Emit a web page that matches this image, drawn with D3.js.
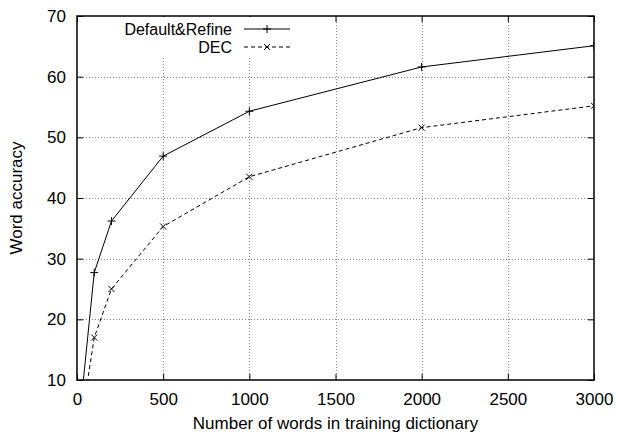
<!DOCTYPE html>
<html>
<head>
<meta charset="utf-8">
<script src="https://cdn.jsdelivr.net/npm/d3@7"></script>
<style>
  body { margin: 0; background: #fff; }
  svg text { font-family: "Liberation Sans", Arial, Helvetica, sans-serif; fill: #000; }
</style>
</head>
<body>
<div id="chart"></div>
<script>
// Data
const dictSizes = [10, 100, 200, 500, 1000, 2000, 3000];
const defaultRefine = [2.4, 27.7, 36.2, 46.9, 54.3, 61.6, 65.1];
const dec = [0.4, 17.0, 25.0, 35.3, 43.5, 51.6, 55.2];
const xTicks = [0, 500, 1000, 1500, 2000, 2500, 3000];
const yTicks = [10, 20, 30, 40, 50, 60, 70];
const seriesNames = ['Default&Refine', 'DEC'];

const width = 617, height = 432;
const margin = { top: 16, right: 23, bottom: 52, left: 77 };
const fontSize = 17;
const legendFontSize = 16;

const svg = d3.select('#chart').append('svg')
  .attr('width', width)
  .attr('height', height);

const x = d3.scaleLinear().domain([0, 3000]).range([margin.left, width - margin.right]);
const y = d3.scaleLinear().domain([10, 70]).range([height - margin.bottom, margin.top]);

// Grid (dotted), skipping the border values
const grid = svg.append('g').attr('class', 'grid')
  .attr('stroke', '#888').attr('stroke-width', 1).attr('stroke-dasharray', '1,2');
grid.selectAll('.gx').data(xTicks.slice(1, -1)).enter().append('line')
  .attr('x1', d => Math.round(x(d)) + 0.5).attr('x2', d => Math.round(x(d)) + 0.5)
  .attr('y1', y(10)).attr('y2', y(70));
grid.selectAll('.gy').data(yTicks.slice(1, -1)).enter().append('line')
  .attr('y1', d => Math.round(y(d)) + 0.5).attr('y2', d => Math.round(y(d)) + 0.5)
  .attr('x1', x(0)).attr('x2', x(3000));

// Axes: ticks inward on all four sides, labels only on left/bottom
const tickLen = 6;
const fmt = d3.format('d');
svg.append('g')
  .attr('transform', `translate(0,${y(10)})`)
  .call(d3.axisBottom(x).tickValues(xTicks).tickFormat(fmt).tickSizeInner(-tickLen).tickSizeOuter(0).tickPadding(tickLen + 7))
  .call(g => g.select('.domain').remove())
  .call(g => g.selectAll('text').attr('font-size', fontSize));
svg.append('g')
  .attr('transform', `translate(0,${y(70)})`)
  .call(d3.axisTop(x).tickValues(xTicks).tickSizeInner(-tickLen).tickSizeOuter(0).tickFormat(''))
  .call(g => g.select('.domain').remove());
svg.append('g')
  .attr('transform', `translate(${x(0)},0)`)
  .call(d3.axisLeft(y).tickValues(yTicks).tickFormat(fmt).tickSizeInner(-tickLen).tickSizeOuter(0).tickPadding(tickLen + 5))
  .call(g => g.select('.domain').remove())
  .call(g => g.selectAll('text').attr('font-size', fontSize));
svg.append('g')
  .attr('transform', `translate(${x(3000)},0)`)
  .call(d3.axisRight(y).tickValues(yTicks).tickSizeInner(-tickLen).tickSizeOuter(0).tickFormat(''))
  .call(g => g.select('.domain').remove());

// Clip lines to the plot area
svg.append('clipPath').attr('id', 'plot-clip')
  .append('rect')
  .attr('x', x(0)).attr('y', y(70))
  .attr('width', x(3000) - x(0)).attr('height', y(10) - y(70));

const line = d3.line().x(d => x(d[0])).y(d => y(d[1]));
const series = [
  { name: seriesNames[0], values: dictSizes.map((d, i) => [d, defaultRefine[i]]), dash: null, marker: 'plus' },
  { name: seriesNames[1], values: dictSizes.map((d, i) => [d, dec[i]]), dash: '4,3', marker: 'cross' }
];

const markerPath = (type, cx, cy, r) => type === 'plus'
  ? `M${cx - r},${cy}H${cx + r}M${cx},${cy - r}V${cy + r}`
  : `M${cx - r},${cy - r}L${cx + r},${cy + r}M${cx - r},${cy + r}L${cx + r},${cy - r}`;

const plot = svg.append('g').attr('clip-path', 'url(#plot-clip)');
series.forEach(s => {
  plot.append('path')
    .attr('d', line(s.values))
    .attr('fill', 'none').attr('stroke', '#000').attr('stroke-width', 1)
    .attr('stroke-dasharray', s.dash);
  plot.selectAll(null).data(s.values).enter().append('path')
    .attr('d', d => markerPath(s.marker, x(d[0]), y(d[1]), s.marker === 'plus' ? 4 : 3))
    .attr('stroke', '#000').attr('stroke-width', 1).attr('fill', 'none');
});

// Legend (opaque box hides the grid beneath it)
const legend = svg.append('g');
legend.append('rect')
  .attr('x', 110).attr('y', y(70) + 1).attr('width', 188).attr('height', 41)
  .attr('fill', '#fff');
series.forEach((s, i) => {
  const ly = 29 + i * 18;
  legend.append('text')
    .attr('x', 232).attr('y', ly).attr('dy', '0.35em')
    .attr('text-anchor', 'end').attr('font-size', legendFontSize)
    .text(s.name);
  legend.append('line')
    .attr('x1', 244).attr('x2', 290).attr('y1', ly).attr('y2', ly)
    .attr('stroke', '#000').attr('stroke-dasharray', s.dash);
  legend.append('path')
    .attr('d', markerPath(s.marker, 267, ly, s.marker === 'plus' ? 4 : 3))
    .attr('stroke', '#000').attr('fill', 'none');
});

// Border
svg.append('rect')
  .attr('x', x(0)).attr('y', y(70))
  .attr('width', x(3000) - x(0)).attr('height', y(10) - y(70))
  .attr('fill', 'none').attr('stroke', '#000').attr('stroke-width', 1.5);

// Axis titles
svg.append('text')
  .attr('x', (x(0) + x(3000)) / 2).attr('y', height - 3)
  .attr('text-anchor', 'middle').attr('font-size', fontSize)
  .text('Number of words in training dictionary');
svg.append('text')
  .attr('transform', `translate(22,${(y(10) + y(70)) / 2}) rotate(-90)`)
  .attr('text-anchor', 'middle').attr('font-size', fontSize)
  .text('Word accuracy');
</script>
</body>
</html>
